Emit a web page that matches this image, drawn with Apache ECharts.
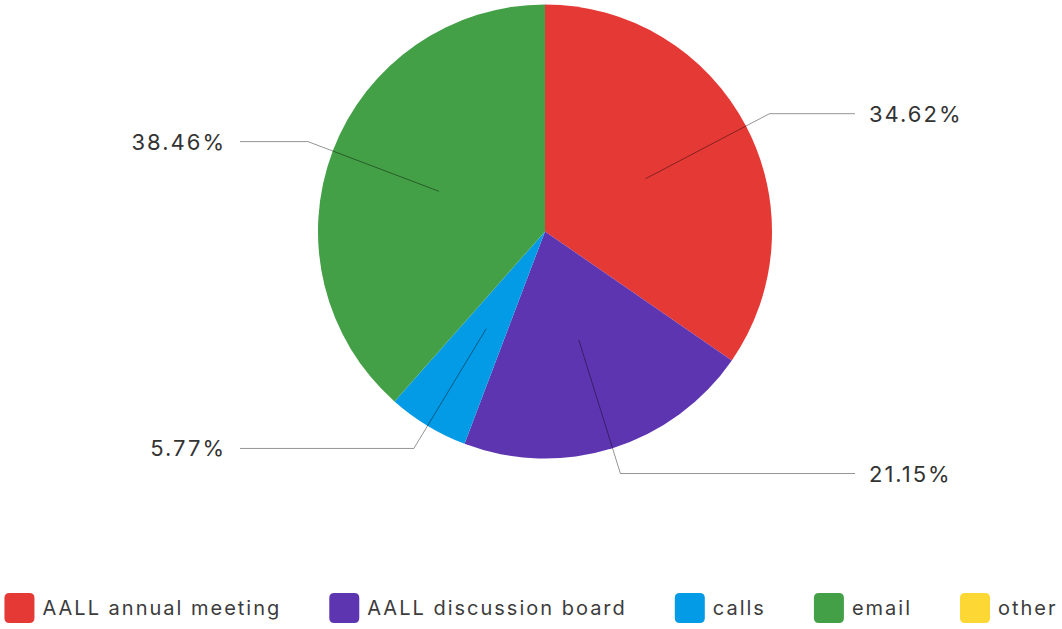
<!DOCTYPE html>
<html>
<head>
<meta charset="utf-8">
<title>Channels</title>
<script src="https://cdn.jsdelivr.net/npm/echarts@6/dist/echarts.min.js"></script>
<style>
  html, body { margin: 0; padding: 0; background: #ffffff; }
  #chart { width: 1062px; height: 629px; }
  #chart text { letter-spacing: 2px; }
</style>
</head>
<body>
<div id="chart"></div>
<script>
// Responses per channel
const categories = ['AALL annual meeting', 'AALL discussion board', 'calls', 'email', 'other'];
const counts = [18, 11, 3, 20, 0];
const palette = ['#E53935', '#5E35B1', '#039BE5', '#43A047', '#FDD835'];

// Text is drawn with letter spacing (CSS on the SVG text); measure it the same way
const LETTER_SPACING = 2;
const measureCtx = document.createElement('canvas').getContext('2d');
echarts.setPlatformAPI({
  measureText(text, font) {
    measureCtx.font = font || '12px sans-serif';
    const str = text == null ? '' : String(text);
    return { width: measureCtx.measureText(str).width + LETTER_SPACING * str.length };
  }
});

const FONT = 'Inter, "Noto Sans", sans-serif';
const center = [545, 231.5];
const outerR = 227;
// horizontal reach of the label lines from the pie centre, per side
const lineReach = { left: 305, right: 310 };
const textGap = 14;

const sliceData = categories.map((name, i) => ({ name, value: counts[i] }));
const labelData = categories.map((name, i) => ({
  name,
  value: counts[i],
  label: { show: counts[i] > 0 },
  labelLine: { show: counts[i] > 0 }
}));

const chart = echarts.init(document.getElementById('chart'), null, { renderer: 'svg' });
chart.setOption({
  backgroundColor: '#ffffff',
  animation: false,
  color: palette,
  legend: {
    bottom: 6,
    left: 'center',
    padding: 0,
    itemWidth: 30,
    itemHeight: 30,
    itemGap: 48,
    icon: 'path://M5,0H25Q30,0 30,5V25Q30,30 25,30H5Q0,30 0,25V5Q0,0 5,0Z',
    textStyle: { fontFamily: FONT, fontSize: 20, color: '#3c3c3c', padding: [0, 0, 0, 3] },
    data: categories
  },
  series: [
    {
      name: 'slices',
      type: 'pie',
      z: 2,
      center: center,
      radius: outerR,
      startAngle: 90,
      clockwise: true,
      label: { show: false },
      labelLine: { show: false },
      emphasis: { disabled: true },
      data: sliceData
    },
    {
      // invisible inner disc that anchors the label lines halfway into each slice
      name: 'labels',
      type: 'pie',
      z: 3,
      center: center,
      radius: [0, outerR / 2],
      startAngle: 90,
      clockwise: true,
      silent: true,
      itemStyle: { color: 'rgba(0,0,0,0)' },
      emphasis: { disabled: true },
      label: {
        position: 'outside',
        formatter: '{d}%',
        fontFamily: FONT,
        fontSize: 22,
        color: '#333333'
      },
      labelLine: {
        length: 140,
        length2: 80,
        lineStyle: { color: 'rgba(0,0,0,0.42)', width: 1 }
      },
      // line ends on each side share one x, labels sit just past them
      labelLayout(params) {
        const pts = params.labelLinePoints;
        if (!pts || pts.length < 3) return {};
        const isLeft = pts[2][0] < center[0];
        const endX = isLeft ? center[0] - lineReach.left : center[0] + lineReach.right;
        const y = pts[2][1];
        return {
          x: isLeft ? endX - textGap : endX + textGap,
          y: y,
          align: isLeft ? 'right' : 'left',
          verticalAlign: 'middle',
          labelLinePoints: [pts[0].slice(), pts[1].slice(), [endX, y]]
        };
      },
      data: labelData
    }
  ]
});
</script>
</body>
</html>
